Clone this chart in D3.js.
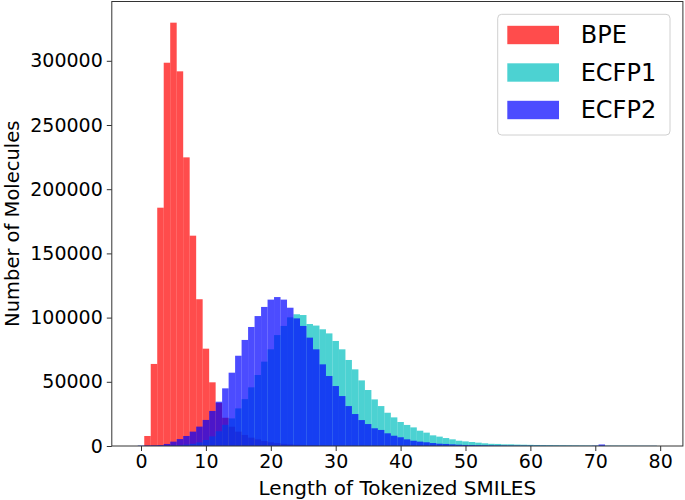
<!DOCTYPE html>
<html>
<head>
<meta charset="utf-8">
<script src="https://cdn.jsdelivr.net/npm/d3@7"></script>
<style>
  body { margin: 0; background: #fff; }
  text { font-family: "DejaVu Sans", sans-serif; }
</style>
</head>
<body>
<svg id="fig_tokens" width="685" height="500"></svg>
<script>
// histogram counts, one bin per token length (bins centred on 0..79)
var binCenters = d3.range(0, 80);

var bpe = [0, 7800, 63900, 185600, 298500, 329700, 291800, 224800, 163800, 114300,
  75800, 49600, 33500, 22000, 15000, 11200, 8600, 6500, 5200, 3900,
  2900, 2300, 1700, 1300, 1000, 800, 600, 450, 350, 250,
  200, 150, 100, 80, 60, 40, 30, 20, 10, 0,
  0, 0, 0, 0, 0, 0, 0, 0, 0, 0,
  0, 0, 0, 0, 0, 0, 0, 0, 0, 0,
  0, 0, 0, 0, 0, 0, 0, 0, 0, 0,
  0, 0, 0, 0, 0, 0, 0, 0, 0, 0];

var ecfp1 = [100, 100, 150, 200, 300, 450, 700, 1100, 1700, 2800,
  4700, 7500, 11500, 16500, 21500, 29300, 36500, 45700, 55300, 65700,
  75300, 86400, 93500, 100200, 102600, 102000, 95000, 93800, 90900, 87700,
  81800, 75300, 67000, 59700, 51100, 43600, 36300, 31100, 25900, 22300,
  18700, 16400, 14500, 11900, 10400, 8300, 7300, 6200, 5200, 4100,
  3600, 3100, 2600, 2100, 1700, 1600, 1300, 1300, 1100, 1000,
  900, 800, 700, 650, 600, 550, 500, 450, 400, 380,
  350, 330, 300, 280, 260, 240, 220, 200, 190, 180];

var ecfp2 = [300, 400, 500, 700, 1600, 3400, 5400, 7800, 11200, 15100,
  20300, 27300, 34500, 44900, 57100, 70300, 82600, 92700, 101200, 108300,
  114000, 116000, 114000, 107700, 99400, 93500, 84400, 75300, 63600, 54500,
  46700, 38900, 31100, 24900, 20200, 17100, 13800, 12500, 9900, 8000,
  6800, 5200, 4100, 3400, 2900, 2300, 1800, 1600, 1300, 1000,
  800, 700, 600, 500, 450, 400, 350, 300, 280, 260,
  240, 220, 200, 180, 160, 150, 140, 130, 120, 110,
  250, 1200, 100, 80, 80, 80, 80, 80, 80, 80];

var seriesNames = ["BPE", "ECFP1", "ECFP2"];
var seriesColors = ["#ff0000", "#00bfbf", "#0000ff"];
var xTicks = [0, 10, 20, 30, 40, 50, 60, 70, 80];
var yTicks = [0, 50000, 100000, 150000, 200000, 250000, 300000];

(function fig_tokens() {
  var svg = d3.select("#fig_tokens"),
      margin = {top: 1.5, right: 2.1, bottom: 54, left: 111.8},
      width = +svg.attr("width") - margin.left - margin.right,
      height = +svg.attr("height") - margin.top - margin.bottom,
      g = svg.append("g").attr("transform", "translate(" + margin.left + "," + margin.top + ")");

  var series = [bpe, ecfp1, ecfp2];
  var ymax = d3.max(series, function(s) { return d3.max(s); });

  var x = d3.scaleLinear().domain([-4.5, 83.5]).range([0, width]);
  var y = d3.scaleLinear().domain([0, ymax * 1.05]).range([height, 0]);

  // bars, drawn in legend order so ECFP2 ends up on top
  series.forEach(function(vals, k) {
    g.append("g")
      .selectAll("rect")
      .data(vals)
      .enter().append("rect")
        .attr("x", function(d, i) { return x(binCenters[i] - 0.5); })
        .attr("y", function(d) { return y(d); })
        .attr("width", function(d, i) { return x(binCenters[i] + 0.5) - x(binCenters[i] - 0.5); })
        .attr("height", function(d) { return y(0) - y(d); })
        .attr("fill", seriesColors[k])
        .attr("fill-opacity", 0.7);
  });

  var xAxis = g.append("g")
      .attr("transform", "translate(0," + height + ")")
      .call(d3.axisBottom(x).tickValues(xTicks).tickSize(5).tickPadding(4));
  var yAxis = g.append("g")
      .call(d3.axisLeft(y).tickValues(yTicks).tickFormat(d3.format("d")).tickSize(5).tickPadding(4));

  [xAxis, yAxis].forEach(function(ax) {
    ax.select(".domain").remove();
    ax.selectAll("line").attr("stroke", "#333");
    ax.selectAll("text")
      .style("font-family", "DejaVu Sans")
      .style("font-size", "19px")
      .attr("fill", "#000");
  });

  // frame (all four spines)
  g.append("rect")
      .attr("x", 0).attr("y", 0)
      .attr("width", width).attr("height", height)
      .attr("fill", "none")
      .attr("stroke", "#333")
      .attr("stroke-width", 1);

  svg.append("text")
      .attr("x", margin.left + width / 2)
      .attr("y", 495)
      .attr("text-anchor", "middle")
      .style("font-size", "20px")
      .text("Length of Tokenized SMILES");

  svg.append("text")
      .attr("transform", "translate(19," + (margin.top + height / 2) + ") rotate(-90)")
      .attr("text-anchor", "middle")
      .style("font-size", "19.5px")
      .text("Number of Molecules");

  // legend
  var lg = svg.append("g");
  lg.append("rect")
      .attr("x", 497.7).attr("y", 14.3)
      .attr("width", 172.3).attr("height", 120.7)
      .attr("rx", 4)
      .attr("fill", "#fff").attr("fill-opacity", 0.8)
      .attr("stroke", "#d0d0d0");
  seriesNames.forEach(function(name, k) {
    var cy = 35 + k * 37.5;
    lg.append("rect")
        .attr("x", 507.3).attr("y", cy - 9.2)
        .attr("width", 51.7).attr("height", 18.4)
        .attr("fill", seriesColors[k]).attr("fill-opacity", 0.7);
    lg.append("text")
        .attr("x", 580.7).attr("y", cy)
        .attr("dominant-baseline", "central")
        .style("font-size", "24px")
        .text(name);
  });
})();
</script>
</body>
</html>
